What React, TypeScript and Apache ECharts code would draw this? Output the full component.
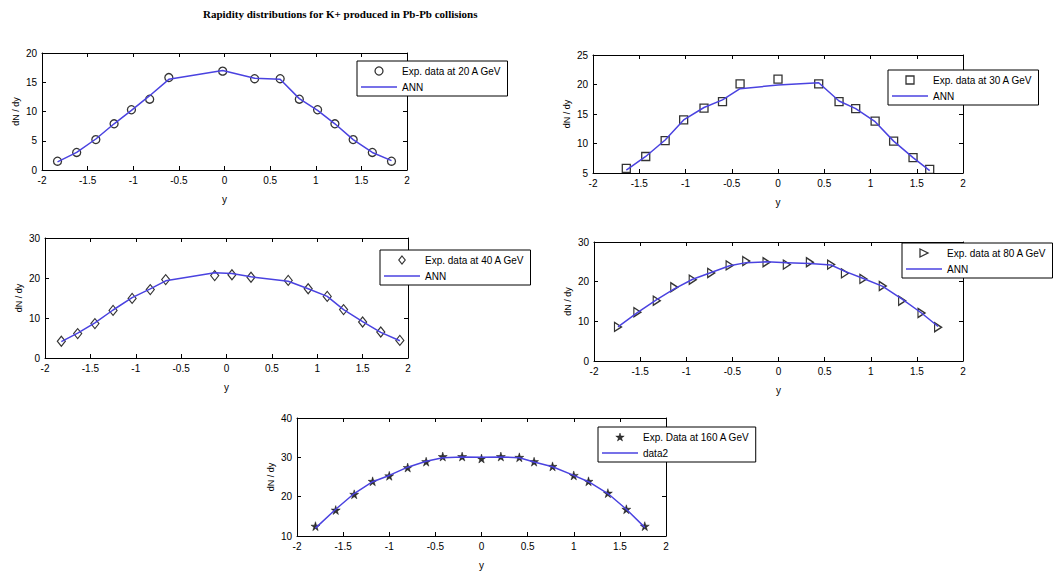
import { useEffect, useRef } from "react";
import * as echarts from "echarts";

const TITLE = "Rapidity distributions for K+ produced in Pb-Pb collisions";

// 20 A GeV
const x20 = [-1.83, -1.62, -1.41, -1.21, -1.02, -0.82, -0.61, -0.02, 0.33, 0.61, 0.82, 1.02, 1.21, 1.41, 1.62, 1.83];
const exp20 = [1.5, 3.0, 5.2, 7.9, 10.3, 12.1, 15.8, 16.9, 15.6, 15.6, 12.1, 10.3, 7.9, 5.2, 3.0, 1.5];
const ann20 = [1.4, 3.0, 5.3, 7.9, 10.2, 12.7, 15.5, 17.0, 15.7, 15.5, 12.2, 10.2, 7.9, 5.2, 3.0, 1.6];

// 30 A GeV
const x30 = [-1.64, -1.43, -1.22, -1.02, -0.8, -0.6, -0.41, 0.0, 0.44, 0.66, 0.84, 1.05, 1.25, 1.46, 1.64];
const exp30 = [5.8, 7.8, 10.5, 14.0, 16.0, 17.1, 20.1, 20.9, 20.1, 17.1, 15.9, 13.8, 10.4, 7.6, 5.6];
const ann30 = [5.5, 7.8, 10.6, 14.0, 16.1, 17.4, 19.3, 19.9, 20.3, 17.2, 15.9, 13.7, 10.4, 7.6, 5.4];

// 40 A GeV
const x40 = [-1.82, -1.64, -1.45, -1.25, -1.04, -0.84, -0.67, -0.13, 0.06, 0.27, 0.68, 0.9, 1.11, 1.29, 1.5, 1.7, 1.91];
const exp40 = [4.2, 6.1, 8.6, 11.9, 14.9, 17.1, 19.6, 20.6, 20.8, 20.2, 19.4, 17.3, 15.4, 12.1, 9.0, 6.5, 4.4];
const ann40 = [4.1, 6.2, 8.8, 12.0, 15.1, 17.3, 19.3, 21.3, 21.1, 20.3, 19.2, 17.3, 15.4, 12.1, 9.1, 6.4, 4.3];

// 80 A GeV
const x80 = [-1.74, -1.53, -1.32, -1.13, -0.93, -0.73, -0.53, -0.35, -0.13, 0.09, 0.34, 0.57, 0.72, 0.92, 1.13, 1.34, 1.55, 1.73];
const exp80 = [8.6, 12.3, 15.2, 18.6, 20.5, 22.2, 24.1, 25.2, 24.9, 24.3, 24.9, 24.3, 22.1, 20.7, 18.9, 15.2, 12.1, 8.5];
const ann80 = [8.6, 12.2, 15.5, 18.2, 20.6, 22.3, 24.0, 24.8, 25.0, 24.8, 24.6, 24.2, 22.6, 20.8, 18.8, 15.6, 12.1, 8.7];

// 160 A GeV
const x160 = [-1.8, -1.58, -1.38, -1.18, -1.0, -0.8, -0.6, -0.42, -0.21, 0.0, 0.21, 0.41, 0.57, 0.77, 1.0, 1.16, 1.37, 1.57, 1.77];
const exp160 = [12.5, 16.6, 20.6, 23.9, 25.3, 27.4, 28.9, 30.2, 30.2, 29.7, 30.2, 30.0, 28.9, 27.7, 25.4, 23.9, 20.9, 16.8, 12.5];
const ann160 = [12.0, 16.8, 20.8, 23.8, 25.4, 27.5, 29.0, 29.9, 30.1, 30.0, 30.1, 29.9, 28.8, 27.6, 25.4, 23.8, 20.8, 16.8, 12.2];

const expNames = [
  "Exp. data at 20 A GeV",
  "Exp. data at 30 A GeV",
  "Exp. data at 40 A GeV",
  "Exp. data at 80 A GeV",
  "Exp. Data at 160 A GeV",
];
const fitNames = ["ANN", "ANN", "ANN", "ANN", "data2"];
const yRanges = [
  [0, 20, 5],
  [5, 25, 5],
  [0, 30, 10],
  [0, 30, 10],
  [10, 40, 10],
];
const xAxisName = "y";
const yAxisName = "dN / dy";

const STAR =
  "path://M50,0 L61,35 L98,35 L68,57 L79,91 L50,70 L21,91 L32,57 L2,35 L39,35 Z";
const TRI = "path://M0,0 L10,5 L0,10 Z";
const SQUARE = "path://M0,0 L10,0 L10,10 L0,10 Z";
const DIAMOND = "path://M4,0 L8,5 L4,10 L0,5 Z";
const CIRCLE = "circle";
const LINE_ICON = "path://M0,0 L36,0 L36,1.5 L0,1.5 Z";

const FONT = "Liberation Sans";
const LINE_COLOR = "#4a42e0";

export default function App() {
  const ref = useRef<HTMLDivElement>(null);
  useEffect(() => {
    const chart = echarts.init(ref.current!, null, { renderer: "svg" });

    const xs = [x20, x30, x40, x80, x160];
    const exps = [exp20, exp30, exp40, exp80, exp160];
    const anns = [ann20, ann30, ann40, ann80, ann160];

    const grids = [
      { left: 42, top: 53, width: 365, height: 117 },
      { left: 593, top: 55, width: 370, height: 118 },
      { left: 45, top: 238, width: 363, height: 120 },
      { left: 594, top: 242, width: 369, height: 119 },
      { left: 297, top: 418, width: 369, height: 118 },
    ];
    const legendPos = [
      { left: 357, top: 61 },
      { left: 888, top: 70 },
      { left: 380, top: 250 },
      { left: 902, top: 243 },
      { left: 598, top: 427 },
    ];
    const hollow = { color: "#fff", borderColor: "#000", borderWidth: 1.3 };
    const markers: any[] = [
      { symbol: CIRCLE, symbolSize: 8, itemStyle: hollow },
      { symbol: SQUARE, symbolSize: 8, itemStyle: hollow },
      { symbol: DIAMOND, symbolSize: [8, 10], itemStyle: { ...hollow, borderWidth: 1.2 } },
      { symbol: TRI, symbolSize: [7, 9], itemStyle: hollow },
      { symbol: STAR, symbolSize: 9, itemStyle: { color: "#000", borderColor: "#000", borderWidth: 0.5 } },
    ];
    const legendIcons = [
      { icon: CIRCLE, itemStyle: hollow },
      { icon: SQUARE, itemStyle: hollow },
      { icon: DIAMOND, itemStyle: { ...hollow, borderWidth: 1.2 } },
      { icon: TRI, itemStyle: hollow },
      { icon: STAR, itemStyle: { color: "#000", borderColor: "#000", borderWidth: 0.5 } },
    ];

    const axisCommon = {
      axisLine: { show: true, onZero: false, lineStyle: { color: "#000", width: 1 } },
      axisTick: { show: true, inside: true, length: 4, lineStyle: { color: "#000" } },
      splitLine: { show: false },
    };
    const labelStyle = { color: "#000", fontSize: 10, fontFamily: FONT, margin: 5 };

    const xAxis: any[] = [];
    const yAxis: any[] = [];
    const series: any[] = [];
    const legend: any[] = [];

    for (let i = 0; i < 5; i++) {
      const [ymin, ymax, yint] = yRanges[i];
      xAxis.push({
        type: "value", gridIndex: i, min: -2, max: 2, interval: 0.5, position: "bottom",
        ...axisCommon,
        axisLabel: labelStyle,
        name: xAxisName, nameLocation: "middle", nameGap: 24,
        nameTextStyle: { color: "#000", fontSize: 10, fontFamily: FONT },
      });
      xAxis.push({
        type: "value", gridIndex: i, min: -2, max: 2, interval: 0.5, position: "top",
        ...axisCommon, axisLabel: { show: false },
      });
      yAxis.push({
        type: "value", gridIndex: i, min: ymin, max: ymax, interval: yint, position: "left",
        ...axisCommon,
        axisLabel: labelStyle,
        name: yAxisName, nameLocation: "middle", nameGap: 22,
        nameTextStyle: { color: "#000", fontSize: 9, fontFamily: FONT },
      });
      yAxis.push({
        type: "value", gridIndex: i, min: ymin, max: ymax, interval: yint, position: "right",
        ...axisCommon, axisLabel: { show: false },
      });

      series.push({
        type: "scatter",
        name: expNames[i],
        xAxisIndex: 2 * i,
        yAxisIndex: 2 * i,
        data: xs[i].map((x, k) => [x, exps[i][k]]),
        ...markers[i],
        z: 2,
      });
      series.push({
        type: "line",
        name: fitNames[i],
        xAxisIndex: 2 * i,
        yAxisIndex: 2 * i,
        data: xs[i].map((x, k) => [x, anns[i][k]]),
        symbol: "none",
        showSymbol: false,
        lineStyle: { color: LINE_COLOR, width: 1.5 },
        itemStyle: { color: LINE_COLOR },
        z: 3,
      });

      legend.push({
        ...legendPos[i],
        orient: "vertical",
        data: [
          { name: expNames[i], ...legendIcons[i] },
          { name: fitNames[i], icon: LINE_ICON, itemStyle: { color: LINE_COLOR, borderWidth: 0 } },
        ],
        itemWidth: 36,
        itemHeight: 8,
        itemGap: 6,
        padding: [5, 6, 4, 4],
        backgroundColor: "#fff",
        borderColor: "#000",
        borderWidth: 1,
        selectedMode: false,
        symbolKeepAspect: true,
        textStyle: { color: "#000", fontSize: 10, fontFamily: FONT },
        z: 10,
      });
    }

    chart.setOption({
      animation: false,
      backgroundColor: "#fff",
      title: {
        text: TITLE,
        left: 198,
        top: 3,
        textStyle: { fontFamily: "Liberation Serif", fontWeight: "bold", fontSize: 11, color: "#000" },
      },
      grid: grids.map((g) => ({ ...g, containLabel: false })),
      xAxis,
      yAxis,
      legend,
      series,
    });
    return () => chart.dispose();
  }, []);
  return (
    <div
      ref={ref}
      style={{ position: "fixed", left: 0, top: 0, width: 1053, height: 574, background: "#fff" }}
    />
  );
}
